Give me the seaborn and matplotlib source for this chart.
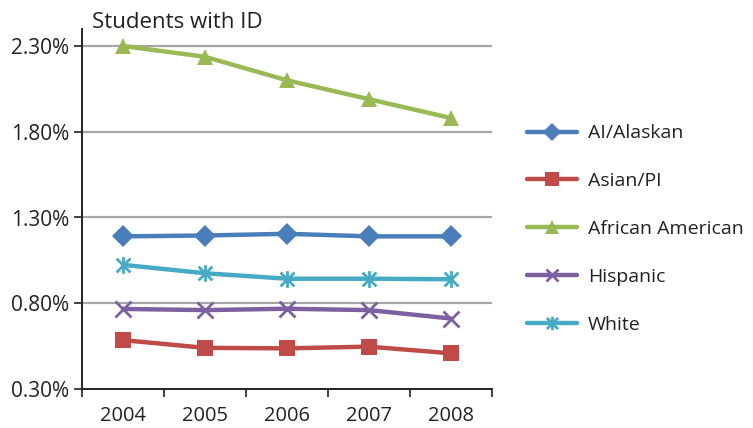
import matplotlib
matplotlib.use("Agg")
import matplotlib.pyplot as plt
import seaborn as sns
import pandas as pd
from matplotlib.path import Path
from matplotlib.ticker import FixedLocator, FuncFormatter

# Share of students identified with ID, by group and year (percent)
years = ["2004", "2005", "2006", "2007", "2008"]
groups = ["AI/Alaskan", "Asian/PI", "African American", "Hispanic", "White"]
ai_alaskan = [1.19, 1.195, 1.205, 1.19, 1.19]
asian_pi = [0.585, 0.54, 0.537, 0.547, 0.508]
african_american = [2.30, 2.237, 2.10, 1.99, 1.88]
hispanic = [0.767, 0.76, 0.768, 0.76, 0.711]
white = [1.024, 0.975, 0.943, 0.943, 0.94]
y_ticks = [0.30, 0.80, 1.30, 1.80, 2.30]
title = "Students with ID"

# Star marker: an "x" crossed by a vertical stroke
star = Path(
    [(-1, -1), (1, 1), (-1, 1), (1, -1), (0, -1.2), (0, 1.2)],
    [Path.MOVETO, Path.LINETO, Path.MOVETO, Path.LINETO, Path.MOVETO, Path.LINETO],
)

colors = ["#4a7ebb", "#be4b48", "#98b954", "#7d60a0", "#46aac5"]
markers = ["D", "s", "^", "x", star]
marker_sizes = [11, 12, 12, 11, 12]

values = [ai_alaskan, asian_pi, african_american, hispanic, white]
df = pd.DataFrame(
    [(g, i, v) for g, vals in zip(groups, values) for i, v in enumerate(vals)],
    columns=["group", "pos", "value"],
)

sns.set_theme(style="white")
plt.rcParams["font.family"] = ["Open Sans", "DejaVu Sans"]

fig = plt.figure(figsize=(7.53, 4.28), dpi=100)
ax = fig.add_axes([82 / 753, 1 - 389 / 428, 410 / 753, (389 - 29) / 428])

for g, c, m, ms in zip(groups, colors, markers, marker_sizes):
    sub = df[df["group"] == g]
    stroked = not isinstance(m, str) or m == "x"
    sns.lineplot(data=sub, x="pos", y="value", ax=ax, color=c, lw=3.2,
                 marker=m, markersize=ms,
                 markeredgewidth=2.0 if stroked else 0,
                 markeredgecolor=c, label=g, zorder=3)

ax.set_xlim(-0.5, len(years) - 0.5)
ax.set_ylim(0.30, 2.30 + 17 / 171.5)
ax.xaxis.set_major_locator(FixedLocator(range(len(years))))
ax.set_xticklabels(years)
ax.xaxis.set_minor_locator(FixedLocator([i - 0.5 for i in range(len(years) + 1)]))
ax.tick_params(axis="x", which="major", length=0, pad=12, labelsize=14.5, labelcolor="#222222")
ax.tick_params(axis="x", which="minor", length=6, width=1.2, color="#222222", direction="out", bottom=True)
ax.yaxis.set_major_locator(FixedLocator(y_ticks))
ax.yaxis.set_major_formatter(FuncFormatter(lambda v, _: f"{v:.2f}%"))
ax.tick_params(axis="y", length=6, width=1.2, color="#222222", direction="out", left=True,
               labelsize=15, labelcolor="#222222", pad=3)

for t in y_ticks[1:]:
    ax.axhline(t, color="#a6a6a6", lw=1.6, zorder=1)

for side in ("top", "right"):
    ax.spines[side].set_visible(False)
for side in ("left", "bottom"):
    ax.spines[side].set_color("#222222")
    ax.spines[side].set_linewidth(1.4)

ax.set_xlabel("")
ax.set_ylabel("")
ax.text(92 / 753, 1 - 22 / 428, title, transform=fig.transFigure, fontsize=16,
        color="#222222", va="center", ha="left")

handles, labels = ax.get_legend_handles_labels()
ax.legend(handles, labels, loc="upper left", bbox_to_anchor=(509 / 753, 1 - 107 / 428),
          bbox_transform=fig.transFigure, frameon=False, fontsize=14,
          labelspacing=1.53, handlelength=2.6, handletextpad=0.55,
          markerscale=0.8, labelcolor="#222222")

fig.savefig("out.png", dpi=100)
